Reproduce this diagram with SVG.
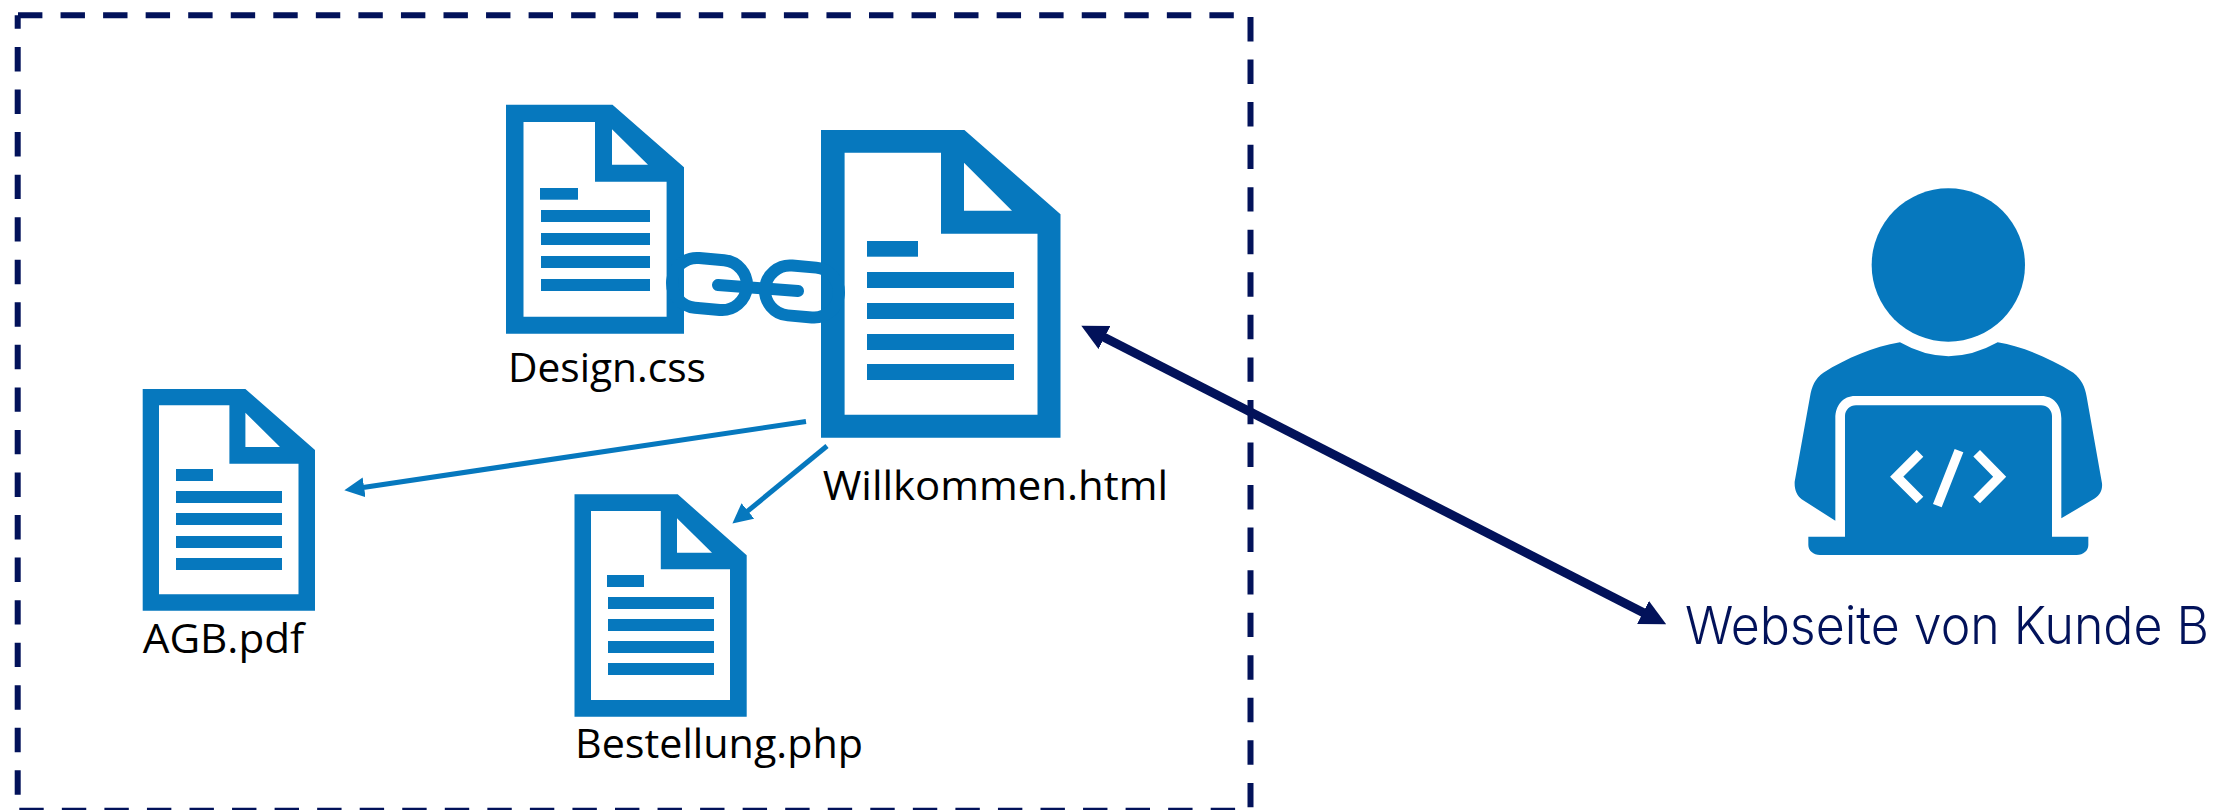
<svg xmlns="http://www.w3.org/2000/svg" width="2216" height="810" viewBox="0 0 2216 810">
<defs>
<style>
.doc{fill:#0678BE;fill-rule:evenodd}
.lbl{font-family:"Open Sans",Lato,sans-serif;font-size:41px;fill:#000;}
.box line{stroke:#02125A;stroke-width:6;stroke-dasharray:24.4 18.15;fill:none}
.blue{stroke:#0678BE;stroke-width:5;fill:none}
.navy{stroke:#02125A;stroke-width:9;fill:none}
.chain{stroke:#0678BE;stroke-width:12;fill:none}
</style>
<marker id="ah-blue" markerUnits="userSpaceOnUse" markerWidth="20" markerHeight="20" viewBox="0 0 18 18" refX="1" refY="9" orient="auto-start-reverse"><path d="M0 0L18 9L0 18Z" fill="#0678BE"/></marker>
<marker id="ah-navy" markerUnits="userSpaceOnUse" markerWidth="26" markerHeight="26" viewBox="0 0 24 24" refX="1" refY="12" orient="auto-start-reverse"><path d="M0 0L24 12L0 24Z" fill="#02125A"/></marker>
</defs>
<rect width="2216" height="810" fill="#fff"/>
<g id="boundary" class="box">
<line x1="18" y1="15.3" x2="1250.5" y2="15.3"/>
<line x1="1250.5" y1="17" x2="1250.5" y2="810"/>
<line x1="19.3" y1="810.7" x2="1250.5" y2="810.7"/>
<line x1="17.7" y1="15.3" x2="17.7" y2="810" stroke-dashoffset="10.85"/>
</g>
<g id="connectors">
<line class="blue" x1="806" y1="421.5" x2="363" y2="487.5" marker-end="url(#ah-blue)"/>
<line class="blue" x1="827" y1="446" x2="747" y2="511.6" marker-end="url(#ah-blue)"/>
<line class="navy" x1="1103.5" y1="337" x2="1644" y2="613" marker-start="url(#ah-navy)" marker-end="url(#ah-navy)"/>
<path class="chain" d="M718 285L798 291" stroke-linecap="round"/>
</g>
<g id="design-css">
<path class="doc" d="M506 104.7H612.5L684 167.3V333.7H506ZM523.5 122V316.7H666.6V181.7H595V122ZM612 129.3V164.7H648Z"/>
<g class="doc"><rect x="540" y="188" width="38" height="11.7"/><rect x="541" y="210" width="109" height="12"/><rect x="541" y="233" width="109" height="12"/><rect x="541" y="256" width="109" height="12"/><rect x="541" y="279" width="109" height="12"/></g>
<text class="lbl" x="508" y="382" textLength="198" lengthAdjust="spacingAndGlyphs">Design.css</text>
</g>
<g id="willkommen-html">
<path class="doc" d="M821 130H964.4L1060.5 214.3V437.7H821ZM844.6 152.7V414.7H1037.5V233.7H941V152.7ZM964 162.7V210.7H1012Z"/>
<g class="doc"><rect x="867" y="241" width="51" height="15.7"/><rect x="867" y="272" width="147" height="16"/><rect x="867" y="303" width="147" height="16"/><rect x="867" y="334" width="147" height="16"/><rect x="867" y="364" width="147" height="16"/></g>
<text class="lbl" x="822.7" y="500" textLength="345.3" lengthAdjust="spacingAndGlyphs">Willkommen.html</text>
</g>
<g id="chain">
<rect class="chain" x="672" y="259" width="75" height="50" rx="25" transform="rotate(5 709.5 284)"/>
<rect class="chain" x="765" y="266.5" width="74" height="50" rx="25" transform="rotate(5 802 291.5)"/>
</g>
<g id="agb-pdf">
<path class="doc" d="M142.7 389H245.4L315 450V610.7H142.7ZM159 405.3V594.3H298.5V463.7H229.4V405.3ZM245.4 412.7V447H280Z"/>
<g class="doc"><rect x="176" y="469" width="37" height="12"/><rect x="176" y="491" width="106" height="12"/><rect x="176" y="513" width="106" height="12"/><rect x="176" y="536" width="106" height="12"/><rect x="176" y="558" width="106" height="12"/></g>
<text class="lbl" x="142.7" y="653.3" textLength="161.6" lengthAdjust="spacingAndGlyphs">AGB.pdf</text>
</g>
<g id="bestellung-php">
<path class="doc" d="M574.5 494.3H677.7L746.7 555.3V716.7H574.5ZM591 511V700H730V569.3H660.8V511ZM677 518.3V552.7H712Z"/>
<g class="doc"><rect x="607" y="575" width="37" height="12"/><rect x="608" y="597" width="106" height="12"/><rect x="608" y="619" width="106" height="12"/><rect x="608" y="641" width="106" height="12"/><rect x="608" y="663" width="106" height="12"/></g>
<text class="lbl" x="575" y="758" textLength="288" lengthAdjust="spacingAndGlyphs">Bestellung.php</text>
</g>
<g id="webseite-kunde-b">
<g transform="translate(1760 170) scale(.33333)">
<circle class="doc" cx="565" cy="285" r="230"/>
<path class="doc" d="M420 517Q565 600 713 517C790 530 870 565 940 608C965 628 975 650 980 680L1026 940C1028 960 1020 975 1005 985L904 1045V745C904 705 880 678 845 678H285C250 678 226 705 226 745V1052L125 988C110 975 103 960 104 935L150 680C155 650 165 625 190 608C260 565 340 530 420 517Z"/>
<path class="doc" d="M255 1100V738C255 720 270 706 288 706H843C861 706 876 720 876 738V1100H985V1125C985 1142 970 1155 950 1155H180C160 1155 145 1142 145 1125V1100Z"/>
<path d="M480 850L410 920L480 990M650 850L719 920L650 990M597 842L532 1007" fill="none" stroke="#fff" stroke-width="28"/>
</g>
<text x="1685" y="644" font-family="Inter,'Liberation Sans',sans-serif" font-weight="300" font-size="52" fill="#02125A" textLength="524" lengthAdjust="spacingAndGlyphs">Webseite von Kunde B</text>
</g>
</svg>
